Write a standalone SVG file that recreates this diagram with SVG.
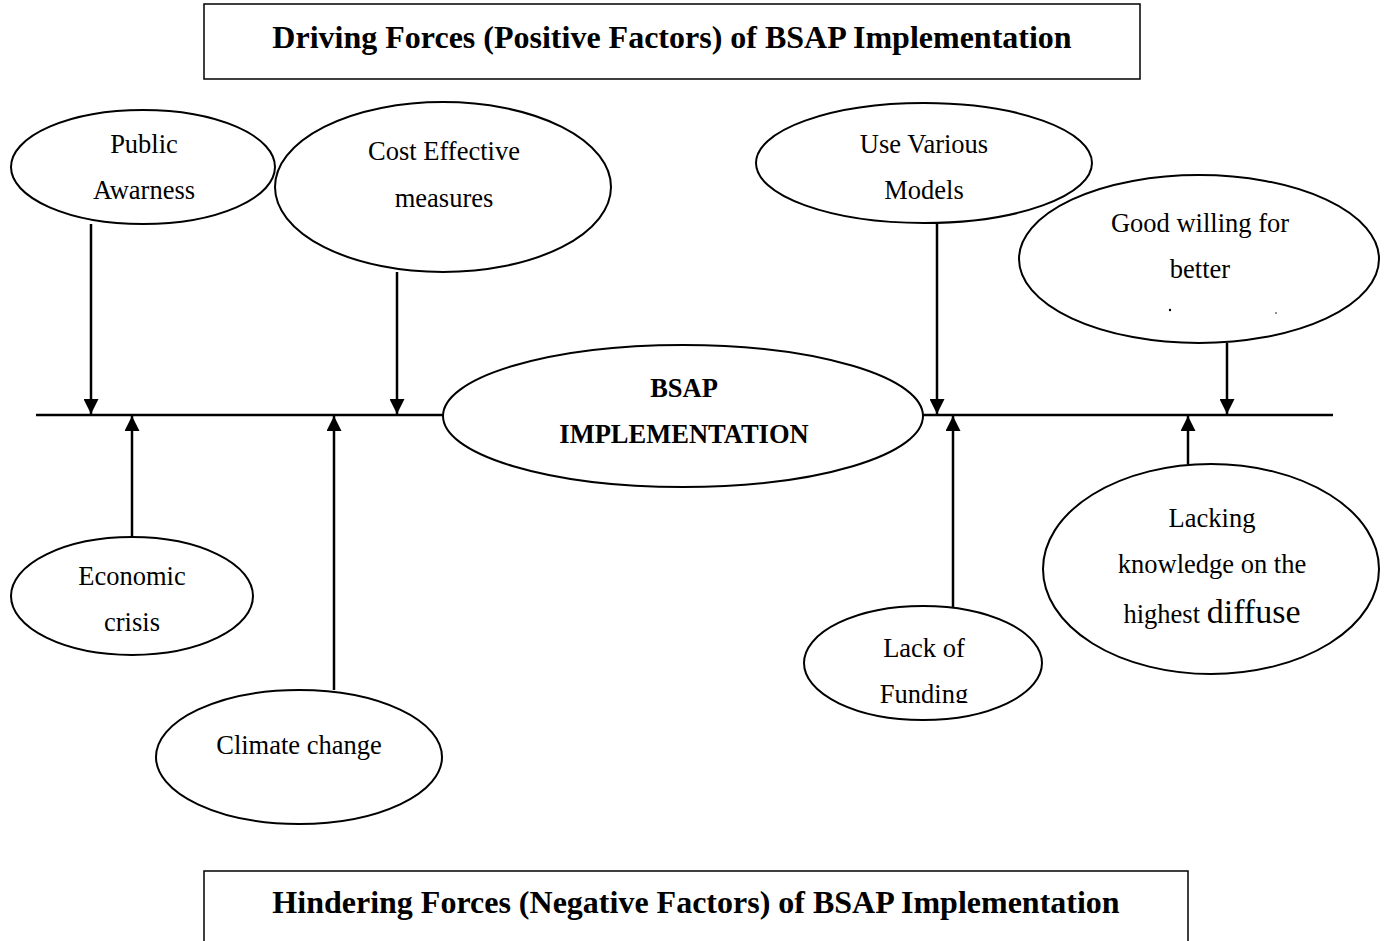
<svg xmlns="http://www.w3.org/2000/svg" width="1389" height="941" viewBox="0 0 1389 941">
  <style>
    .box { fill: #fff; stroke: #000; stroke-width: 1.5; }
    .node ellipse { fill: #fff; stroke: #000; stroke-width: 2; }
    .lbl { font-family: "Liberation Serif", "Times New Roman", serif; font-size: 26.5px; fill: #000; text-anchor: middle; }
    .title { font-family: "Liberation Serif", "Times New Roman", serif; font-size: 32px; font-weight: bold; fill: #000; text-anchor: middle; }
    .bold { font-weight: bold; }
    .axis { stroke: #000; stroke-width: 2.5; fill: none; }
    .arr { stroke: #000; stroke-width: 2.5; fill: none; marker-end: url(#head); }
  </style>
  <defs>
    <marker id="head" viewBox="0 0 10 10" refX="10" refY="5" markerWidth="6" markerHeight="6" markerUnits="strokeWidth" orient="auto">
      <path d="M0,0 L10,5 L0,10 Z" fill="#000"/>
    </marker>
    <clipPath id="fundClip"><rect x="790" y="590" width="270" height="113"/></clipPath>
  </defs>
  <rect width="1389" height="941" fill="#fff"/>

  <g id="title-top">
    <rect class="box" x="204" y="4" width="936" height="75"/>
    <text class="title" x="672" y="48">Driving Forces (Positive Factors) of BSAP Implementation</text>
  </g>
  <g id="title-bottom">
    <rect class="box" x="204" y="871" width="984" height="80"/>
    <text class="title" x="696" y="913">Hindering Forces (Negative Factors) of BSAP Implementation</text>
  </g>

  <g id="connectors">
    <line class="axis" x1="36" y1="415" x2="444" y2="415"/>
    <line class="axis" x1="923" y1="415" x2="1333" y2="415"/>
    <line class="arr" x1="91" y1="224" x2="91" y2="414"/>
    <line class="arr" x1="397" y1="272" x2="397" y2="414"/>
    <line class="arr" x1="132" y1="537" x2="132" y2="416"/>
    <line class="arr" x1="334" y1="690" x2="334" y2="416"/>
    <line class="arr" x1="937" y1="223" x2="937" y2="414"/>
    <line class="arr" x1="1227" y1="343" x2="1227" y2="414"/>
    <line class="arr" x1="953" y1="607" x2="953" y2="416"/>
    <line class="arr" x1="1188" y1="464" x2="1188" y2="416"/>
  </g>

  <g id="public-awareness" class="node">
    <ellipse cx="143" cy="167" rx="132" ry="57"/>
    <text class="lbl" x="144" y="153">Public</text>
    <text class="lbl" x="144" y="199">Awarness</text>
  </g>
  <g id="cost-effective" class="node">
    <ellipse cx="443" cy="187" rx="168" ry="85"/>
    <text class="lbl" x="444" y="160">Cost Effective</text>
    <text class="lbl" x="444" y="207">measures</text>
  </g>
  <g id="use-various-models" class="node">
    <ellipse cx="924" cy="163" rx="168" ry="60"/>
    <text class="lbl" x="924" y="153">Use Various</text>
    <text class="lbl" x="924" y="199">Models</text>
  </g>
  <g id="good-willing" class="node">
    <ellipse cx="1199" cy="259" rx="180" ry="84"/>
    <text class="lbl" x="1200" y="232">Good willing for</text>
    <text class="lbl" x="1200" y="278">better</text>
    <circle cx="1170" cy="310" r="1.2" fill="#000"/>
    <circle cx="1276" cy="313" r="0.8" fill="#000"/>
  </g>
  <g id="bsap" class="node">
    <ellipse cx="683" cy="416" rx="240" ry="71"/>
    <text class="lbl bold" x="684" y="397">BSAP</text>
    <text class="lbl bold" x="684" y="443">IMPLEMENTATION</text>
  </g>
  <g id="economic-crisis" class="node">
    <ellipse cx="132" cy="596" rx="121" ry="59"/>
    <text class="lbl" x="132" y="585">Economic</text>
    <text class="lbl" x="132" y="631">crisis</text>
  </g>
  <g id="climate-change" class="node">
    <ellipse cx="299" cy="757" rx="143" ry="67"/>
    <text class="lbl" x="299" y="754">Climate change</text>
  </g>
  <g id="lack-of-funding" class="node">
    <ellipse cx="923" cy="663" rx="119" ry="57"/>
    <text class="lbl" x="924" y="657">Lack of</text>
    <text class="lbl" x="924" y="703" clip-path="url(#fundClip)">Funding</text>
  </g>
  <g id="lacking-knowledge" class="node">
    <ellipse cx="1211" cy="569" rx="168" ry="105"/>
    <text class="lbl" x="1212" y="527">Lacking</text>
    <text class="lbl" x="1212" y="573">knowledge on the</text>
    <text class="lbl" x="1212" y="623"><tspan>highest </tspan><tspan font-size="34">diffuse</tspan></text>
  </g>
</svg>
